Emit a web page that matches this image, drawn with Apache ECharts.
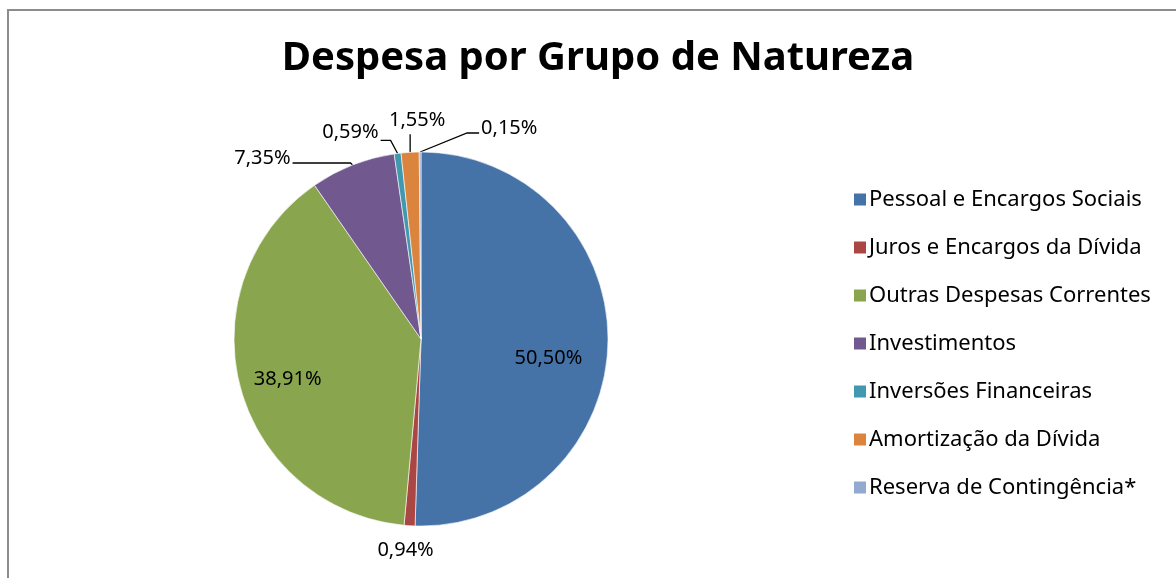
<!DOCTYPE html>
<html>
<head>
<meta charset="utf-8">
<script src="https://cdn.jsdelivr.net/npm/echarts@6/dist/echarts.min.js"></script>
<style>
html,body{margin:0;padding:0;background:#fff;}
#frame{position:absolute;left:7px;top:9px;width:1200px;height:600px;border-left:2px solid #8c8c8c;border-top:2px solid #8c8c8c;box-sizing:border-box;}
#chart{position:absolute;left:0;top:0;width:1176px;height:578px;}
</style>
</head>
<body>
<div id="frame"></div>
<div id="chart"></div>
<script>
const categories = ['Pessoal e Encargos Sociais','Juros e Encargos da Dívida','Outras Despesas Correntes','Investimentos','Inversões Financeiras','Amortização da Dívida','Reserva de Contingência*'];
const values = [50.50, 0.94, 38.91, 7.35, 0.59, 1.55, 0.15];
const labelTexts = ['50,50%','0,94%','38,91%','7,35%','0,59%','1,55%','0,15%'];
const colors = ['#4572A7','#AA4643','#89A54E','#71588F','#4198AF','#DB843D','#93A9CF'];

const chart = echarts.init(document.getElementById('chart'));
const font = '"Noto Sans", "Open Sans", sans-serif';
const insideIdx = [0, 2];

chart.setOption({
  backgroundColor: 'transparent',
  animation: false,
  color: colors,
  title: {
    text: 'Despesa por Grupo de Natureza',
    left: 593, top: 34, textAlign: 'center',
    textStyle: {fontFamily: font, fontWeight: 'bold', fontSize: 40, color: '#000'}
  },
  legend: {
    orient: 'vertical', left: 847, top: 183,
    icon: 'rect', itemWidth: 14, itemHeight: 14, itemGap: 25,
    textStyle: {fontFamily: font, fontSize: 22, color: '#000', lineHeight: 23, padding: [0,0,0,-3]},
    data: categories
  },
  series: [{
    type: 'pie',
    center: [421, 339],
    radius: 187,
    startAngle: 90,
    clockwise: true,
    avoidLabelOverlap: false,
    itemStyle: {borderColor: '#fff', borderWidth: 0.6},
    emphasis: {disabled: true},
    label: {
      fontFamily: font, fontSize: 20, color: '#000',
      formatter: p => labelTexts[p.dataIndex]
    },
    labelLine: {show: true, length: 10, length2: 10, lineStyle: {color: '#000', width: 1.3}},
    data: categories.map((c, i) => ({
      name: c, value: values[i],
      label: {position: insideIdx.includes(i) ? 'inside' : 'outside'},
      labelLine: {show: !insideIdx.includes(i) && i !== 1}
    })),
    labelLayout: function (p) {
      const i = p.dataIndex;
      if (i === 0) return {dx: 31, dy: 18};
      if (i === 2) return {dx: -40, dy: 16};
      const pts = p.labelLinePoints;
      if (!pts) return {};
      const x0 = pts[0][0], y0 = pts[0][1];
      if (i === 1) return {x: x0 - 4, y: y0 + 25, align: 'center', verticalAlign: 'middle'};
      if (i === 3) return {x: x0 - 62, y: y0 - 7, align: 'right', verticalAlign: 'middle',
        labelLinePoints: [[x0, y0], [x0 - 2, y0 - 2], [x0 - 60, y0 - 2]]};
      if (i === 4) return {x: x0 - 19, y: y0 - 21, align: 'right', verticalAlign: 'middle',
        labelLinePoints: [[x0, y0], [x0 - 7, y0 - 13], [x0 - 17, y0 - 13]]};
      if (i === 5) return {x: x0 + 7, y: y0 - 32, align: 'center', verticalAlign: 'middle',
        labelLinePoints: [[x0, y0], [x0, y0 - 18], [x0, y0 - 18]]};
      if (i === 6) return {x: x0 + 61, y: y0 - 24, align: 'left', verticalAlign: 'middle',
        labelLinePoints: [[x0, y0], [x0 + 47, y0 - 19], [x0 + 59, y0 - 19]]};
      return {};
    }
  }]
});
</script>
</body>
</html>
